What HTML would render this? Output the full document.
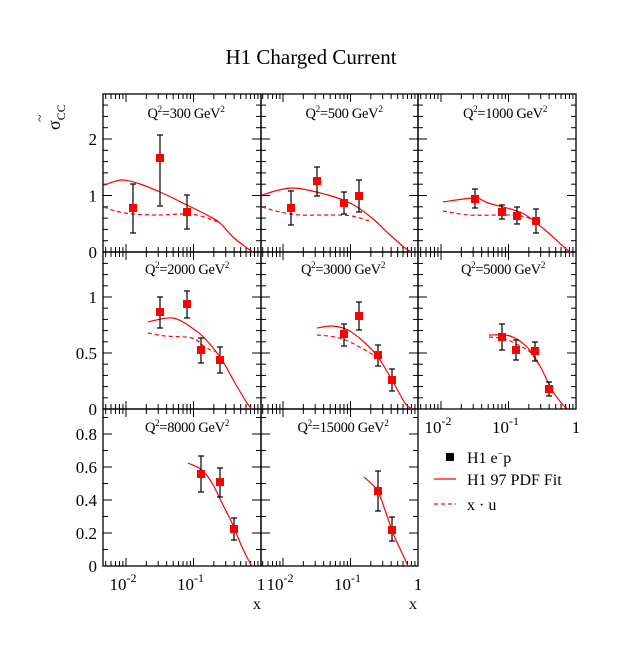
<!DOCTYPE html>
<html><head><meta charset="utf-8"><style>
html,body{margin:0;padding:0;background:#fff;}
svg{display:block;font-family:"Liberation Serif",serif;}
</style></head><body>
<svg id="s" width="629" height="658" viewBox="0 0 629 658" xmlns="http://www.w3.org/2000/svg"></svg>
<script>
const S=document.getElementById('s');let h='';
const cols=[[103,261],[261,418],[418,576]];
const rows=[[94,252,56.5,[0,2.8],0.2,1,['0','1','2']],[252,409,112,[0,1.4],0.1,0.5,['0','0.5','1']],[409,566,165,[0,0.95],0.1,0.2,['0','0.2','0.4','0.6','0.8']]];
function ln(x1,y1,x2,y2,w,extra){h+=`<line x1="${x1}" y1="${y1}" x2="${x2}" y2="${y2}" stroke="#000" stroke-width="${w||1}" ${extra||''}/>`;}
function panel(c,r){
 const [x0,x1]=cols[c],[y0,y1,sc,rng,mn,mj]=rows[r];
 h+=`<rect x="${x0}" y="${y0}" width="${x1-x0}" height="${y1-y0}" fill="none" stroke="#000" stroke-width="1.3"/>`;
 const dec=67.5;
 for(let d=-3;d<=0;d++)for(let k=1;k<10;k++){
  const x=x1+(d+Math.log10(k))*dec; if(x<x0+0.5||x>x1-0.5)continue;
  const L=k==1?8:5; ln(x,y1,x,y1-L,1);ln(x,y0,x,y0+L,1);
 }
 const n=Math.round(rng[1]/mn+0.001);
 for(let i=1;i<=n;i++){const v=i*mn;const y=y1-v*sc;if(y<y0+1)continue;
  const isM=Math.abs(v/mj-Math.round(v/mj))<1e-6;const L=isM?9:5;
  ln(x0,y,x0+L,y,1);ln(x1,y,x1-L,y,1);}
}
for(let r=0;r<3;r++)for(let c=0;c<3;c++){if(r==2&&c==2)continue;panel(c,r);}
// y labels
rows.forEach((r,ri)=>{r[6].forEach(t=>{const y=r[1]-parseFloat(t)*r[2];h+=`<text x="97" y="${y+6}" font-size="17" text-anchor="end">${t}</text>`;});});
// x labels
function xl(x,y,t){h+=`<text x="${x}" y="${y}" font-size="17" text-anchor="middle">${t}</text>`;}
function xlabels(x1,y){xl(x1-135-3,y,'10<tspan dy="-8" font-size="12">-2</tspan>');xl(x1-67.5-3,y,'10<tspan dy="-8" font-size="12">-1</tspan>');xl(x1,y,'1');}
xlabels(261,590);xlabels(418,590);xlabels(576,433);
h+=`<text x="257" y="609" font-size="16" text-anchor="middle">x</text><text x="413" y="609" font-size="16" text-anchor="middle">x</text>`;
// title
h+=`<text x="311" y="64" font-size="21" text-anchor="middle">H1 Charged Current</text>`;
h+=`<text transform="translate(60,130) rotate(-90)" font-size="18">σ<tspan dy="5" font-size="12">CC</tspan></text><text transform="translate(44,122) rotate(-90)" font-size="14">~</text>`;
// panel labels
const labs=[['300',186,118],['500',344,118],['1000',505,118],['2000',187,274],['3000',343,274],['5000',503,274],['8000',187,432],['15000',343,432]];
labs.forEach(l=>{h+=`<text x="${l[1]}" y="${l[2]}" font-size="14.5" text-anchor="middle" letter-spacing="-0.3">Q<tspan dy="-6" font-size="9">2</tspan><tspan dy="6">=${l[0]} GeV</tspan><tspan dy="-6" font-size="9">2</tspan></text>`;});
// curves
function cr(p){let d=`M${p[0][0]},${p[0][1]}`;for(let i=0;i<p.length-1;i++){const a=p[Math.max(0,i-1)],b=p[i],c=p[i+1],e=p[Math.min(p.length-1,i+2)];
 d+=` C${(b[0]+(c[0]-a[0])/6).toFixed(1)},${(b[1]+(c[1]-a[1])/6).toFixed(1)} ${(c[0]-(e[0]-b[0])/6).toFixed(1)},${(c[1]-(e[1]-b[1])/6).toFixed(1)} ${c[0]},${c[1]}`;}return d;}
function sol(p){h+=`<path d="${cr(p)}" fill="none" stroke="#f00" stroke-width="1.2"/>`;}
function das(p){h+=`<path d="${cr(p)}" fill="none" stroke="#f00" stroke-width="1.2" stroke-dasharray="4,3"/>`;}
function pt(x,y,a,b){ln(x,a,x,b,1.2);ln(x-3,a,x+3,a,1.2);ln(x-3,b,x+3,b,1.2);h+=`<rect x="${x-4}" y="${y-4}" width="8" height="8" fill="#f00"/>`;}
// P1
sol([[104,185],[122,180],[140,184],[160,192],[187,205],[207,215],[220,223],[233,237],[247,248],[253,252]]);
das([[104,207],[115,211],[133,214],[160,215],[190,214],[210,219],[220,223]]);
pt(133,208,184,233);pt(160,158,135,206);pt(187,212,195,229);
// P2
sol([[262,195],[292,188],[328,195],[352,204],[372,218],[388,233],[405,248],[412,252]]);
das([[262,207],[280,212],[300,215],[330,215],[352,216],[372,222]]);
pt(291,208,191,225);pt(317,181,167,196);pt(344,203,192,214);pt(359,196,180,212);
// P3
sol([[443,202],[475,198],[488,203],[522,213],[545,230],[565,248],[570,252]]);
das([[443,211],[470,215],[510,215],[525,217],[540,222]]);
pt(475,199,189,208);pt(502,212,205,219);pt(517,216,207,224);pt(536,221,209,233);
// P4
sol([[148,322],[173,318],[195,330],[208,342],[222,360],[235,383],[247,403],[252,409]]);
das([[148,333],[165,336],[192,338],[205,347],[215,352]]);
pt(160,312,297,328);pt(187,304,291,318);pt(201,350,338,363);pt(220,360,347,373);
// P5
sol([[317,328],[332,326],[348,330],[365,343],[378,357],[392,380],[405,403],[412,409]]);
das([[317,335],[335,337],[350,342],[365,350],[375,356]]);
pt(344,334,324,346);pt(359,316,302,330);pt(378,355,345,366);pt(392,380,369,391);
// P6
sol([[489,335],[510,336],[527,347],[540,366],[552,390],[563,405],[568,409]]);
das([[489,337],[505,339],[520,346],[530,352],[540,366]]);
pt(502,337,324,350);pt(516,350,340,360);pt(535,351,342,361);pt(549,389,382,396);
// P7
sol([[188,463],[202,470],[212,483],[223,505],[232,523],[242,547],[250,563],[253,566]]);
pt(201,474,456,492);pt(220,482,468,497);pt(234,529,518,540);
// P8
sol([[364,477],[377,490],[385,510],[393,533],[402,553],[408,566]]);
pt(378,491,471,511);pt(392,530,517,541);
// legend
h+=`<rect x="446" y="453" width="8" height="8" fill="#000"/>`;
h+=`<text x="467" y="463" font-size="16">H1 e<tspan dy="-6" font-size="10">−</tspan><tspan dy="6">p</tspan></text>`;
h+=`<line x1="434" y1="479" x2="456" y2="479" stroke="#f00" stroke-width="1.2"/><text x="467" y="485" font-size="16">H1 97 PDF Fit</text>`;
h+=`<line x1="434" y1="504" x2="456" y2="504" stroke="#f00" stroke-width="1.2" stroke-dasharray="4,3"/><text x="467" y="510" font-size="16">x · u</text>`;
S.innerHTML=h;
</script>
</body></html>
